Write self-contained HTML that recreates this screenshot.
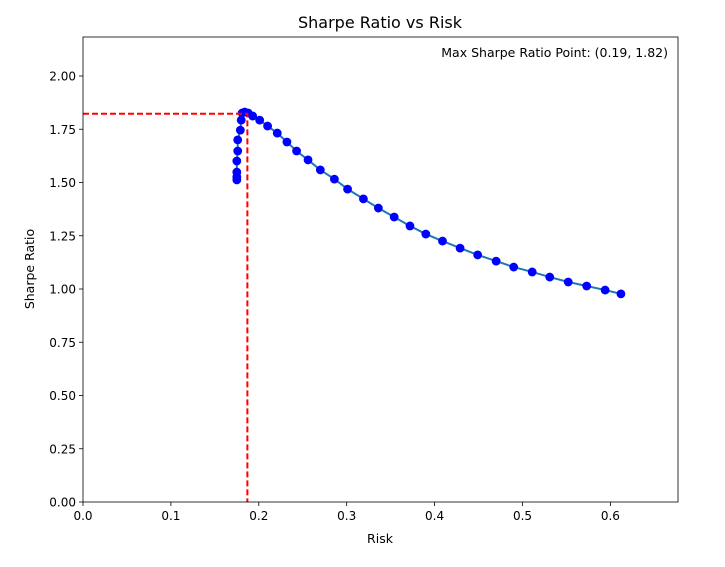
<!DOCTYPE html>
<html><head><meta charset="utf-8"><style>
body{margin:0;background:#fff;font-family:"Liberation Sans","DejaVu Sans",sans-serif}
svg text{font-family:"DejaVu Sans","Liberation Sans",sans-serif}
</style></head><body>
<svg id="chart" width="725" height="562" xmlns="http://www.w3.org/2000/svg"></svg>
<script>
const risk=[0.175,0.175,0.175,0.175,0.176,0.176,0.179,0.180,0.181,0.184,0.188,0.193,0.201,0.210,0.221,0.232,0.243,0.256,0.270,0.286,0.301,0.319,0.336,0.354,0.372,0.390,0.409,0.429,0.449,0.470,0.490,0.511,0.531,0.552,0.573,0.594,0.612];
const sharpe=[1.512,1.526,1.549,1.601,1.648,1.700,1.746,1.793,1.826,1.831,1.826,1.812,1.793,1.765,1.732,1.690,1.648,1.606,1.559,1.516,1.469,1.423,1.380,1.338,1.296,1.258,1.225,1.192,1.160,1.131,1.103,1.080,1.056,1.033,1.014,0.995,0.977];
const maxPoint=[0.187,1.823];
const xTicks=[0.0,0.1,0.2,0.3,0.4,0.5,0.6];
const yTicks=[0.00,0.25,0.50,0.75,1.00,1.25,1.50,1.75,2.00];
const L=83,T=37,R=678,B=502;
const X=v=>L+v*879, Y=v=>B-v*213;
const svg=document.getElementById('chart');
const NS='http://www.w3.org/2000/svg';
function mk(tag,attrs,txt){const e=document.createElementNS(NS,tag);for(const k in attrs)e.setAttribute(k,attrs[k]);if(txt!==undefined)e.textContent=txt;svg.appendChild(e);return e;}
let e;
e=mk('rect',{x:L,y:T,width:R-L,height:B-T,fill:'#fff',stroke:'none'});


xTicks.forEach(t=>{
 e=mk('line',{x1:X(t),x2:X(t),y1:B,y2:B+4,stroke:'#000','stroke-width':0.8});
 
 
 e=mk('text',{x:X(t),y:B+18,'font-size':12,'text-anchor':'middle'},t.toFixed(1));
 
 
});
yTicks.forEach(t=>{
 e=mk('line',{x1:L-4,x2:L,y1:Y(t),y2:Y(t),stroke:'#000','stroke-width':0.8});
 
 
 e=mk('text',{x:L-7,y:Y(t)+4.5,'font-size':12,'text-anchor':'end'},t.toFixed(2));
 
 
});
e=mk('polyline',{points:risk.map((r,i)=>X(r)+','+Y(sharpe[i])).join(' '),fill:'none',stroke:'#1f77b4','stroke-width':2});


risk.forEach((r,i)=>{
 e=mk('circle',{cx:X(r),cy:Y(sharpe[i]),r:4.4,fill:'#0000ff'});
 
 
});
e=mk('polyline',{points:`${L},${Y(maxPoint[1])} ${X(maxPoint[0])},${Y(maxPoint[1])} ${X(maxPoint[0])},${B}`,fill:'none',stroke:'#ff0000','stroke-width':2,'stroke-dasharray':'6,3'});


e=mk('rect',{x:L,y:T,width:R-L,height:B-T,fill:'none',stroke:'#000','stroke-width':0.8});


e=mk('text',{x:668,y:57,'font-size':12.5,'text-anchor':'end'},`Max Sharpe Ratio Point: (${maxPoint[0].toFixed(2)}, ${maxPoint[1].toFixed(2)})`);


e=mk('text',{x:380,y:28,'font-size':16,'text-anchor':'middle'},'Sharpe Ratio vs Risk');


e=mk('text',{x:380,y:543,'font-size':12.5,'text-anchor':'middle'},'Risk');


e=mk('text',{x:34,y:269,'font-size':12.5,'text-anchor':'middle',transform:'rotate(-90 34 269)'},'Sharpe Ratio');


</script>
</body></html>
